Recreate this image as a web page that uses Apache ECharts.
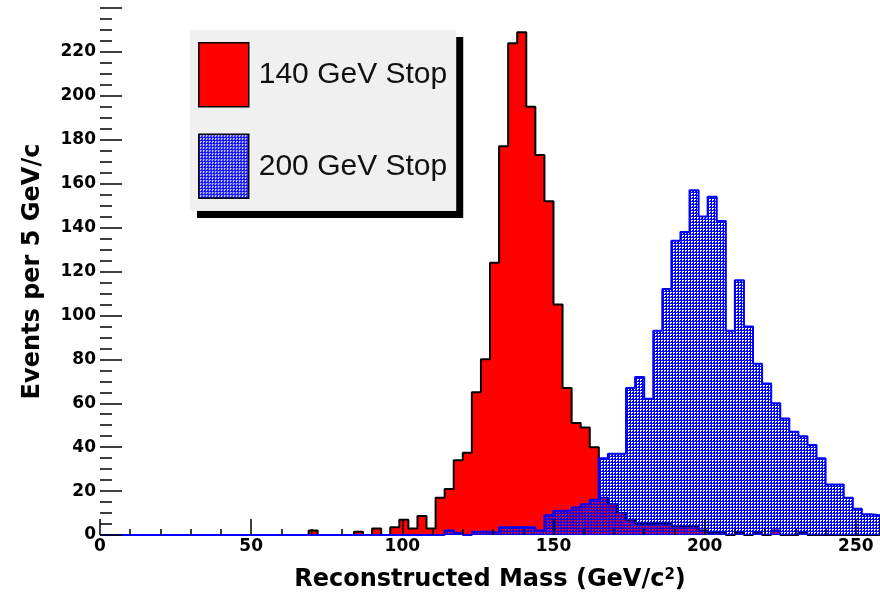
<!DOCTYPE html>
<html><head><meta charset="utf-8">
<script src="https://cdn.jsdelivr.net/npm/echarts@6/dist/echarts.min.js"></script>
<style>html,body{margin:0;padding:0;background:#fff}#c{width:880px;height:597px}</style>
</head><body><div id="c"></div>
<script>
// Bin low edges (GeV), 3 GeV wide bins
const binStarts = [0,3,6,9,12,15,18,21,24,27,30,33,36,39,42,45,48,51,54,57,60,63,66,69,72,75,78,81,84,87,
  90,93,96,99,102,105,108,111,114,117,120,123,126,129,132,135,138,141,144,147,150,153,156,159,162,165,168,171,174,177,
  180,183,186,189,192,195,198,201,204,207,210,213,216,219,222,225,228,231,234,237,240,243,246,249,252,255];
const binEnd = 258;

// 140 GeV Stop (red)
const stop140 = [0,0,0,0,0,0,0,0,0,0,
  0,0,0,0,0,0,0,0,0,0,
  0,0,0,2,0,0,0,0,1.5,0,
  3,0,3.5,7,3,8.6,3,17,21,34,
  37.5,65,80,124,177,224,229,195,173,152,
  105,67,51,49,40,17,14,10,7,5,
  5,5,5,4,4,4,2,1,1,0,
  1,0,1,0,2,0,0,1,0,0,
  0,0,0,0,0,0];

// 200 GeV Stop (blue, hatched)
const stop200 = [0,0,0,0,0,0,0,0,0,0,
  0,0,0,0,0,0,0,0,0,0,
  0,0,0,0,0,0,0,0,0,0,
  0,0,0,0,0,0,0,0,2,1,
  0,1.5,1.5,1,3.5,3.5,3.5,3.5,2,9,
  11,11,12.5,14,16,35,37,37,67,72,
  62,93,112,134,138,157,145,154,143,93,
  116,95,78,69,60,53,47,45,41,35,
  23,23,17,12,9.5,9];

const seriesNames = ['140 GeV Stop', '200 GeV Stop'];
const xTitle = 'Reconstructed Mass (GeV/c{sup|2})';
const yTitle = 'Events per 5 GeV/c';

function toSteps(vals){
  const pts = binStarts.map((x,i)=>[x, vals[i]]);
  pts.push([binEnd, vals[vals.length-1]]);
  return pts;
}
function makePattern(){
  const c = document.createElement('canvas'); c.width = 3; c.height = 3;
  const g = c.getContext('2d'); g.fillStyle = '#0000ff';
  g.fillRect(0,0,3,1); g.fillRect(0,0,1,3); g.fillRect(2,2,1,1);
  return c;
}
const pat = {image: makePattern(), repeat: 'repeat'};

const chart = echarts.init(document.getElementById('c'), null, {renderer:'canvas'});
const tickFont = {fontFamily:'DejaVu Sans', fontWeight:'bold', fontSize:17, color:'#000'};
chart.setOption({
  animation:false,
  backgroundColor:'#ffffff',
  grid:{left:100, right:0, top:8, bottom:59, containLabel:false},
  legend:{
    orient:'vertical', left:190, top:30, padding:[12,9,12,8],
    itemWidth:50, itemHeight:64, itemGap:26,
    backgroundColor:'#f0f0f0', borderWidth:0,
    shadowColor:'#000', shadowBlur:0, shadowOffsetX:7, shadowOffsetY:7,
    textStyle:{fontFamily:'Liberation Sans', fontSize:30, color:'#111', padding:[0,0,0,5]},
    selectedMode:false,
    data:[
      {name:seriesNames[0], icon:'rect', itemStyle:{color:'#ff0000', borderColor:'#000', borderWidth:1.5}},
      {name:seriesNames[1], icon:'rect', itemStyle:{color:pat, borderColor:'#000', borderWidth:1.5}}
    ]
  },
  xAxis:{
    type:'value', min:0, max:binEnd, interval:50, z:5,
    axisLine:{show:false},
    splitLine:{show:false},
    axisTick:{show:true, inside:true, length:16, lineStyle:{color:'#000', width:1.5}},
    minorTick:{show:true, splitNumber:5, length:6, lineStyle:{color:'#000', width:1.5}},
    axisLabel:Object.assign({margin:3, showMaxLabel:false}, tickFont),
    name:xTitle, nameLocation:'middle', nameGap:33,
    nameTextStyle:{fontFamily:'DejaVu Sans', fontWeight:'bold', fontSize:24, color:'#000',
      rich:{sup:{fontFamily:'DejaVu Sans', fontWeight:'bold', fontSize:15, verticalAlign:'top', padding:[0,0,8,0], color:'#000'}}}
  },
  yAxis:{
    type:'value', min:0, max:240, interval:20, z:5,
    axisLine:{show:false},
    splitLine:{show:false},
    axisTick:{show:true, inside:true, length:22, lineStyle:{color:'#000', width:1.5}},
    minorTick:{show:true, splitNumber:4, length:12, lineStyle:{color:'#000', width:1.5}},
    axisLabel:Object.assign({margin:4, showMaxLabel:false}, tickFont),
    name:yTitle, nameLocation:'middle', nameGap:55, nameRotate:90,
    nameTextStyle:{fontFamily:'DejaVu Sans', fontWeight:'bold', fontSize:24, color:'#000'}
  },
  series:[
    {name:seriesNames[0], type:'line', step:'end', symbol:'none', data:toSteps(stop140),
     itemStyle:{color:'#ff0000'}, lineStyle:{color:'#000', width:2},
     areaStyle:{color:'#ff0000', opacity:1, origin:'start'}, z:2},
    {name:seriesNames[1], type:'line', step:'end', symbol:'none', data:toSteps(stop200),
     itemStyle:{color:'#0000ff'}, lineStyle:{color:'#0000ff', width:2},
     areaStyle:{color:pat, opacity:1, origin:'start'}, z:3}
  ]
});
</script></body></html>
